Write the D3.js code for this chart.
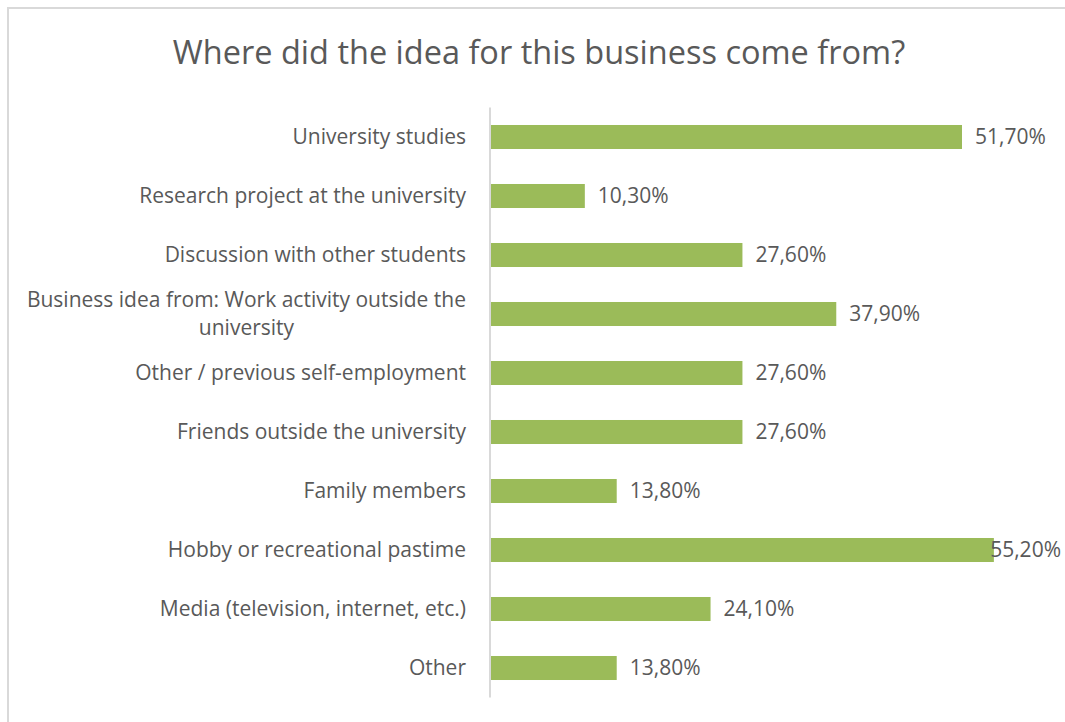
<!DOCTYPE html>
<html>
<head>
<meta charset="utf-8">
<script src="https://cdn.jsdelivr.net/npm/d3@7"></script>
<style>
  html, body { margin: 0; padding: 0; background: #fff; }
  svg { display: block; }
  text { font-family: "Open Sans", Lato, sans-serif; fill: #595959; }
</style>
</head>
<body>
<svg id="chart" width="1065" height="722"></svg>
<script>
// Sources of business ideas (share of respondents, %)
const categories = [
  "University studies",
  "Research project at the university",
  "Discussion with other students",
  "Business idea from: Work activity outside the university",
  "Other / previous self-employment",
  "Friends outside the university",
  "Family members",
  "Hobby or recreational pastime",
  "Media (television, internet, etc.)",
  "Other"
];
const values = [51.7, 10.3, 27.6, 37.9, 27.6, 27.6, 13.8, 55.2, 24.1, 13.8];
const valueLabels = ["51,70%", "10,30%", "27,60%", "37,90%", "27,60%", "27,60%", "13,80%", "55,20%", "24,10%", "13,80%"];
// Category names that are broken over two lines
const wrappedLabels = {
  "Business idea from: Work activity outside the university":
    ["Business idea from: Work activity outside the", "university"]
};
const title = "Where did the idea for this business come from?";

const svg = d3.select("#chart");
const W = 1065, H = 722;

// chart frame
svg.append("rect")
  .attr("x", 8).attr("y", 8)
  .attr("width", W + 20).attr("height", H + 20)
  .attr("fill", "#fff")
  .attr("stroke", "#d9d9d9").attr("stroke-width", 2);

svg.append("text")
  .attr("x", 539).attr("y", 64)
  .attr("text-anchor", "middle")
  .style("font-size", "32.5px")
  .text(title);

const plot = { left: 491, right: 1037.6, top: 107.5, bottom: 697.5, clipRight: 1061 };

const x = d3.scaleLinear().domain([0, 60]).range([plot.left, plot.right]);
const y = d3.scaleBand().domain(categories).range([plot.top, plot.bottom]).paddingInner(0.593).paddingOuter(0.2965);

const data = categories.map((c, i) => ({ cat: c, value: values[i], label: valueLabels[i] }));

// bars
svg.append("g").selectAll("rect")
  .data(data).join("rect")
  .attr("x", x(0))
  .attr("y", d => y(d.cat))
  .attr("width", d => x(d.value) - x(0))
  .attr("height", y.bandwidth())
  .attr("fill", "#9bbb59");

// category axis line
svg.append("line")
  .attr("x1", plot.left - 1).attr("x2", plot.left - 1)
  .attr("y1", plot.top).attr("y2", plot.bottom)
  .attr("stroke", "#d9d9d9").attr("stroke-width", 2);

// category labels
const labelRight = 466;
const fs = 21;
const catG = svg.append("g").style("font-size", fs + "px");
data.forEach(d => {
  const cy = y(d.cat) + y.bandwidth() / 2;
  const lines = wrappedLabels[d.cat];
  if (lines) {
    const t = catG.append("text").attr("text-anchor", "middle");
    // measure the widest line to centre the block against the right edge
    const probe = catG.append("text").text(lines[0]);
    const wMax = probe.node().getComputedTextLength();
    probe.remove();
    const cx = labelRight - wMax / 2;
    const lh = 28;
    lines.forEach((ln, i) => {
      t.append("tspan")
        .attr("x", cx)
        .attr("y", cy - lh / 2 + i * lh)
        .attr("dy", "0.35em")
        .text(ln);
    });
  } else {
    catG.append("text")
      .attr("x", labelRight)
      .attr("y", cy)
      .attr("dy", "0.35em")
      .attr("text-anchor", "end")
      .text(d.cat);
  }
});

// value labels, kept inside the chart area
const valG = svg.append("g").style("font-size", fs + "px");
valG.selectAll("text")
  .data(data).join("text")
  .attr("y", d => y(d.cat) + y.bandwidth() / 2)
  .attr("dy", "0.35em")
  .text(d => d.label)
  .attr("x", function (d) {
    const w = this.getComputedTextLength();
    return Math.min(x(d.value) + 13, plot.clipRight - w);
  });
</script>
</body>
</html>
